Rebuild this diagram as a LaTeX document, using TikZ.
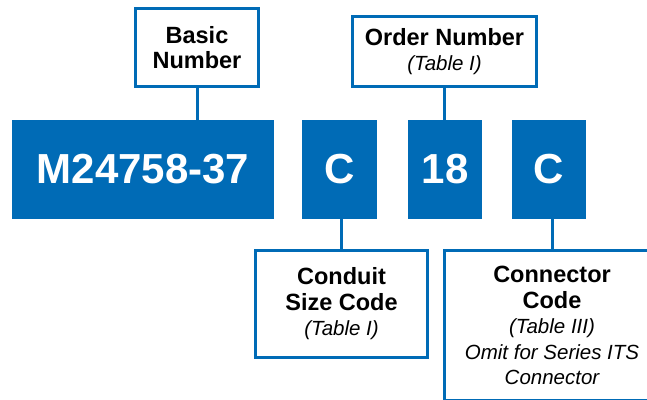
\documentclass[tikz,border=0pt]{standalone}
\usepackage{fontspec}
\setmainfont{Liberation Sans}
\definecolor{blu}{RGB}{0,107,182}
\begin{document}
\begin{tikzpicture}[x=1pt,y=-1pt,
  labelbox/.style={draw=blu, line width=3pt, fill=white, inner sep=0pt, align=center,
    font=\fontsize{23.5}{25.5}\selectfont\bfseries},
  codebox/.style={fill=blu, inner sep=0pt, text=white, minimum height=99pt,
    font=\fontsize{42}{46}\selectfont\bfseries},
  link/.style={draw=blu, line width=3pt},
  ital/.style={}]
\clip (0,0) rectangle (647,399);
\fill[white] (0,0) rectangle (647,399);
% code boxes
\node[codebox, minimum width=262pt] (mcode) at (143,169.5) {M24758-37};
\node[codebox, minimum width=75pt] (csize) at (339.5,169.5) {C};
\node[codebox, minimum width=74pt] (onum) at (445,169.5) {18};
\node[codebox, minimum width=74pt] (ccode) at (549,169.5) {C};
% label boxes
\node[labelbox, minimum width=123pt, minimum height=78pt] (basic) at (197,47.5)
  {Basic\\Number};
\node[labelbox, minimum width=184pt, minimum height=70pt] (order) at (444.5,51.5)
  {Order Number\\{\fontsize{20.5}{25.5}\selectfont\mdseries\itshape (Table I)}};
\node[labelbox, minimum width=172pt, minimum height=107pt] (conduit) at (341.5,304)
  {Conduit\\Size Code\\{\fontsize{20.5}{25.5}\selectfont\mdseries\itshape (Table I)}};
\node[labelbox, minimum width=215pt, minimum height=150pt] (connector) at (552,325.5)
  {Connector\\Code\\{\fontsize{20.5}{25.5}\selectfont\mdseries\itshape (Table III)}\\
   {\fontsize{20.5}{25.5}\selectfont\mdseries\itshape Omit for Series ITS}\\
   {\fontsize{20.5}{25.5}\selectfont\mdseries\itshape Connector}};
% links
\draw[link] (basic.south) -- (basic.south |- mcode.north);
\draw[link] (order.south) -- (order.south |- onum.north);
\draw[link] (conduit.north) -- (conduit.north |- csize.south);
\draw[link] (connector.north) -- (connector.north |- ccode.south);
\end{tikzpicture}
\end{document}
